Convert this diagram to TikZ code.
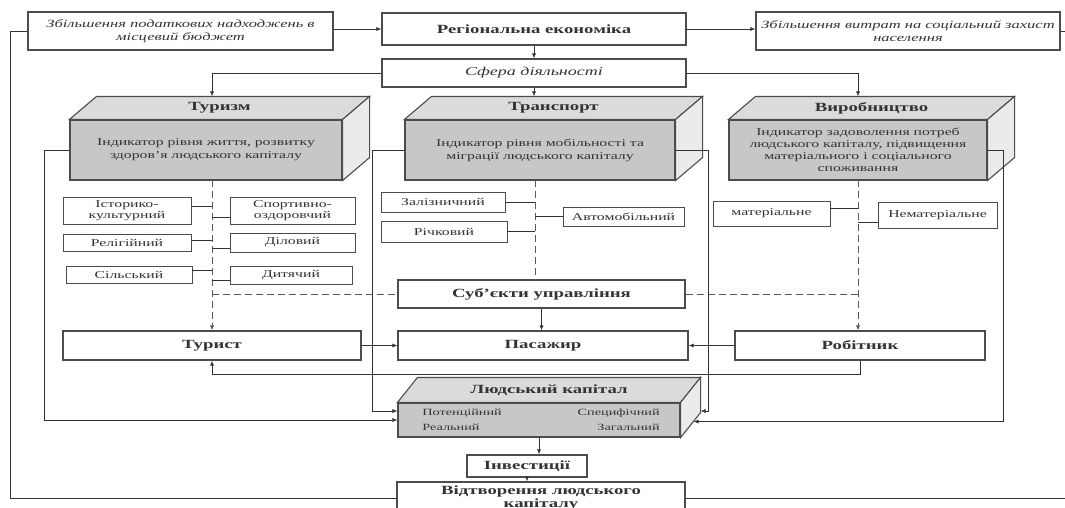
\documentclass[tikz,border=0pt]{standalone}
\usepackage{fontspec}
\setmainfont{Liberation Serif}[FakeStretch=1.5]
\usetikzlibrary{arrows.meta}

\tikzset{
	box/.style={draw=black!70,line width=1.1pt,fill=white,align=center,inner sep=1pt,font=\fontsize{12.5}{14}\selectfont\bfseries},
	note/.style={box,font=\fontsize{11}{13}\selectfont\itshape},
	sub/.style={box,line width=0.9pt,font=\fontsize{10.5}{11.5}\selectfont},
	front/.style={box,fill=black!22,font=\fontsize{10.5}{13}\selectfont},
	topface/.style={draw=black!70,line width=1.1pt,fill=black!14},
	sideface/.style={draw=black!70,line width=1.1pt,fill=black!8},
	toplabel/.style={inner sep=0pt,font=\fontsize{12.5}{14}\selectfont\bfseries},
	kindtext/.style={inner sep=0pt,font=\fontsize{9.5}{11}\selectfont},
	spine/.style={draw=black!65,dash pattern=on 7pt off 4pt}
}

\begin{document}
\begin{tikzpicture}[x=1pt,y=-1pt,line width=0.7pt,color=black!80,>={Latex[length=5pt,width=4pt]}]
		\useasboundingbox (0,0) rectangle (1065,507);
		% top row
		\node (budget) at (180.5,31)[note,minimum width=305pt,minimum height=38pt]{Збільшення податкових надходжень в\\місцевий бюджет};
		\node (econ) at (534,29)[box,minimum width=304pt,minimum height=32pt]{Регіональна економіка};
		\node (social) at (908,31)[note,minimum width=304pt,minimum height=38pt]{Збільшення витрат на соціальний захист\\населення};
		\node (sphere) at (534,73)[note,font=\fontsize{12}{14}\selectfont\itshape,minimum width=304pt,minimum height=28pt]{Сфера діяльності};
		% spheres
		\node (tourism) at (206,150)[front,minimum width=272pt,minimum height=60pt]{Індикатор рівня життя, розвитку\\здоров’я людського капіталу};
		\draw[topface] (tourism.north west) -- ++(27,-23) -- ([shift={(27,-23)}]tourism.north east) -- (tourism.north east) -- cycle;
		\draw[sideface] (tourism.north east) -- ([shift={(27,-23)}]tourism.north east) -- ([shift={(27,-23)}]tourism.south east) -- (tourism.south east) -- cycle;
		\node (tourismlab) at ([shift={(13.5,-11.5)}]tourism.north)[toplabel]{Туризм};
		\node (transport) at (540,150)[front,minimum width=270pt,minimum height=60pt]{Індикатор рівня мобільності та\\міграції людського капіталу};
		\draw[topface] (transport.north west) -- ++(27,-23) -- ([shift={(27,-23)}]transport.north east) -- (transport.north east) -- cycle;
		\draw[sideface] (transport.north east) -- ([shift={(27,-23)}]transport.north east) -- ([shift={(27,-23)}]transport.south east) -- (transport.south east) -- cycle;
		\node (transportlab) at ([shift={(13.5,-11.5)}]transport.north)[toplabel]{Транспорт};
		\node (industry) at (858,150)[front,font=\fontsize{10.5}{12}\selectfont,minimum width=258pt,minimum height=60pt]{Індикатор задоволення потреб\\людського капіталу, підвищення\\матеріального і соціального\\споживання};
		\draw[topface] (industry.north west) -- ++(27,-23) -- ([shift={(27,-23)}]industry.north east) -- (industry.north east) -- cycle;
		\draw[sideface] (industry.north east) -- ([shift={(27,-23)}]industry.north east) -- ([shift={(27,-23)}]industry.south east) -- (industry.south east) -- cycle;
		\node (industrylab) at ([shift={(13.5,-11.5)}]industry.north)[toplabel]{Виробництво};
		\coordinate (tsp) at (212,180);
		\coordinate (psp) at (535,180);
		\coordinate (isp) at (858,180);
		\path (tsp |- tourism.north) ++(0,-23) coordinate (tourismtop);
		\path (psp |- transport.north) ++(0,-23) coordinate (transporttop);
		\path (isp |- industry.north) ++(0,-23) coordinate (industrytop);
		% kinds
		\node (hist) at (127,210.5)[sub,minimum width=128pt,minimum height=27pt]{Історико-\\культурний};
		\node (sport) at (292.5,210.5)[sub,minimum width=125pt,minimum height=27pt]{Спортивно-\\оздоровчий};
		\node (relig) at (127,243)[sub,minimum width=128pt,minimum height=17pt]{Релігійний};
		\node (busin) at (292.5,242.5)[sub,minimum width=125pt,minimum height=19pt]{Діловий};
		\node (rural) at (129,275)[sub,minimum width=126pt,minimum height=17pt]{Сільський};
		\node (child) at (291,275)[sub,minimum width=122pt,minimum height=18pt]{Дитячий};
		\node (rail) at (443,202)[sub,minimum width=124pt,minimum height=20pt]{Залізничний};
		\node (river) at (444,231.5)[sub,minimum width=126pt,minimum height=21pt]{Річковий};
		\node (auto) at (623.5,216.5)[sub,minimum width=121pt,minimum height=19pt]{Автомобільний};
		\node (mat) at (771.5,213.5)[sub,minimum width=117pt,minimum height=25pt]{матеріальне};
		\node (nonmat) at (937.5,215)[sub,minimum width=119pt,minimum height=26pt]{Нематеріальне};
		\node (subjects) at (541.5,294)[box,minimum width=287pt,minimum height=28pt]{Суб’єкти управління};
		% persons
		\node (tourist) at (212,345.5)[box,minimum width=298pt,minimum height=29pt]{Турист};
		\node (passenger) at (543,345.5)[box,minimum width=290pt,minimum height=29pt]{Пасажир};
		\node (worker) at (860,345.5)[box,minimum width=250pt,minimum height=29pt]{Робітник};
		% human capital
		\node (human) at (539,420)[front,minimum width=282pt,minimum height=34pt]{};
		\draw[topface] (human.north west) -- ++(20,-25) -- ([shift={(20,-25)}]human.north east) -- (human.north east) -- cycle;
		\draw[sideface] (human.north east) -- ([shift={(20,-25)}]human.north east) -- ([shift={(20,-25)}]human.south east) -- (human.south east) -- cycle;
		\node (humanlab) at ([shift={(10,-12.5)}]human.north)[toplabel]{Людський капітал};
		\node (potential) at (422,413)[kindtext,anchor=west]{Потенційний};
		\node (specific) at (660,413)[kindtext,anchor=east]{Специфічний};
		\node (real) at (422,427)[kindtext,anchor=west]{Реальний};
		\node (general) at (660,427)[kindtext,anchor=east]{Загальний};
		\node (invest) at (527,466)[box,minimum width=120pt,minimum height=22pt]{Інвестиції};
		\node (reprod) at (541,498)[box,font=\fontsize{12.5}{13.5}\selectfont\bfseries,minimum width=288pt,minimum height=32pt]{Відтворення людського\\капіталу};
		\coordinate (humanr) at ([shift={(13,-16)}]human.south east);
		\coordinate (lft) at (10,0);
		\coordinate (rgt) at (1068,0);
		% connectors
		\draw[->] (budget.east |- econ.west) -- (econ.west);
		\draw[->] (econ.east) -- (econ.east -| social.west);
		\draw[->] (econ.south) -- (sphere.north);
		\draw[->] (sphere.west) -| (tourismtop);
		\draw[->] (sphere.south) -- (sphere.south |- transporttop);
		\draw[->] (sphere.east) -| (industrytop);
		\draw[spine,->] (tsp) -- (tsp |- tourist.north);
		\draw[spine] (psp) -- (psp |- subjects.north);
		\draw[spine,->] (isp) -- (isp |- worker.north);
		\draw[spine] (tsp |- subjects.west) -- (subjects.west);
		\draw[spine] (subjects.east) -- (isp |- subjects.east);
		\draw ([yshift=4pt]hist.east) -- ([yshift=4pt]hist.east -| tsp);
		\draw ([yshift=-7pt]sport.west) -- ([yshift=-7pt]sport.west -| tsp);
		\draw ([yshift=3pt]relig.east) -- ([yshift=3pt]relig.east -| tsp);
		\draw ([yshift=-6pt]busin.west) -- ([yshift=-6pt]busin.west -| tsp);
		\draw ([yshift=5pt]rural.east) -- ([yshift=5pt]rural.east -| tsp);
		\draw ([yshift=-5pt]child.west) -- ([yshift=-5pt]child.west -| tsp);
		\draw (rail.east) -- (rail.east -| psp);
		\draw (river.east) -- (river.east -| psp);
		\draw (auto.west) -- (auto.west -| psp);
		\draw ([yshift=5pt]mat.east) -- ([yshift=5pt]mat.east -| isp);
		\draw ([yshift=-7pt]nonmat.west) -- ([yshift=-7pt]nonmat.west -| isp);
		\draw[->] (subjects.south) -- (subjects.south |- passenger.north);
		\draw[->] (tourist.east) -- (passenger.west);
		\draw[->] (worker.west) -- (passenger.east);
		\draw[->] (worker.south) -- ++(0,14) -| (tourist.south);
		\draw[->] (tourism.west) -- ++(-25,0) |- (human.west);
		\draw[->] (transport.west) -- ++(-32,0) |- ([yshift=9pt]human.west);
		\draw[->] (transport.east) -- ++(33,0) |- ([shift={(20,-9)}]human.east);
		\draw[->] (industry.east) -- ++(16,0) |- (humanr);
		\draw[->] (human.south) -- (human.south |- invest.north);
		\draw[->] (invest.south) -- (invest.south |- reprod.north);
		\draw (reprod.west) -| (lft |- budget.west) -- (budget.west);
		\draw (reprod.east) -| (rgt |- social.east) -- (social.east);
\end{tikzpicture}
\end{document}
